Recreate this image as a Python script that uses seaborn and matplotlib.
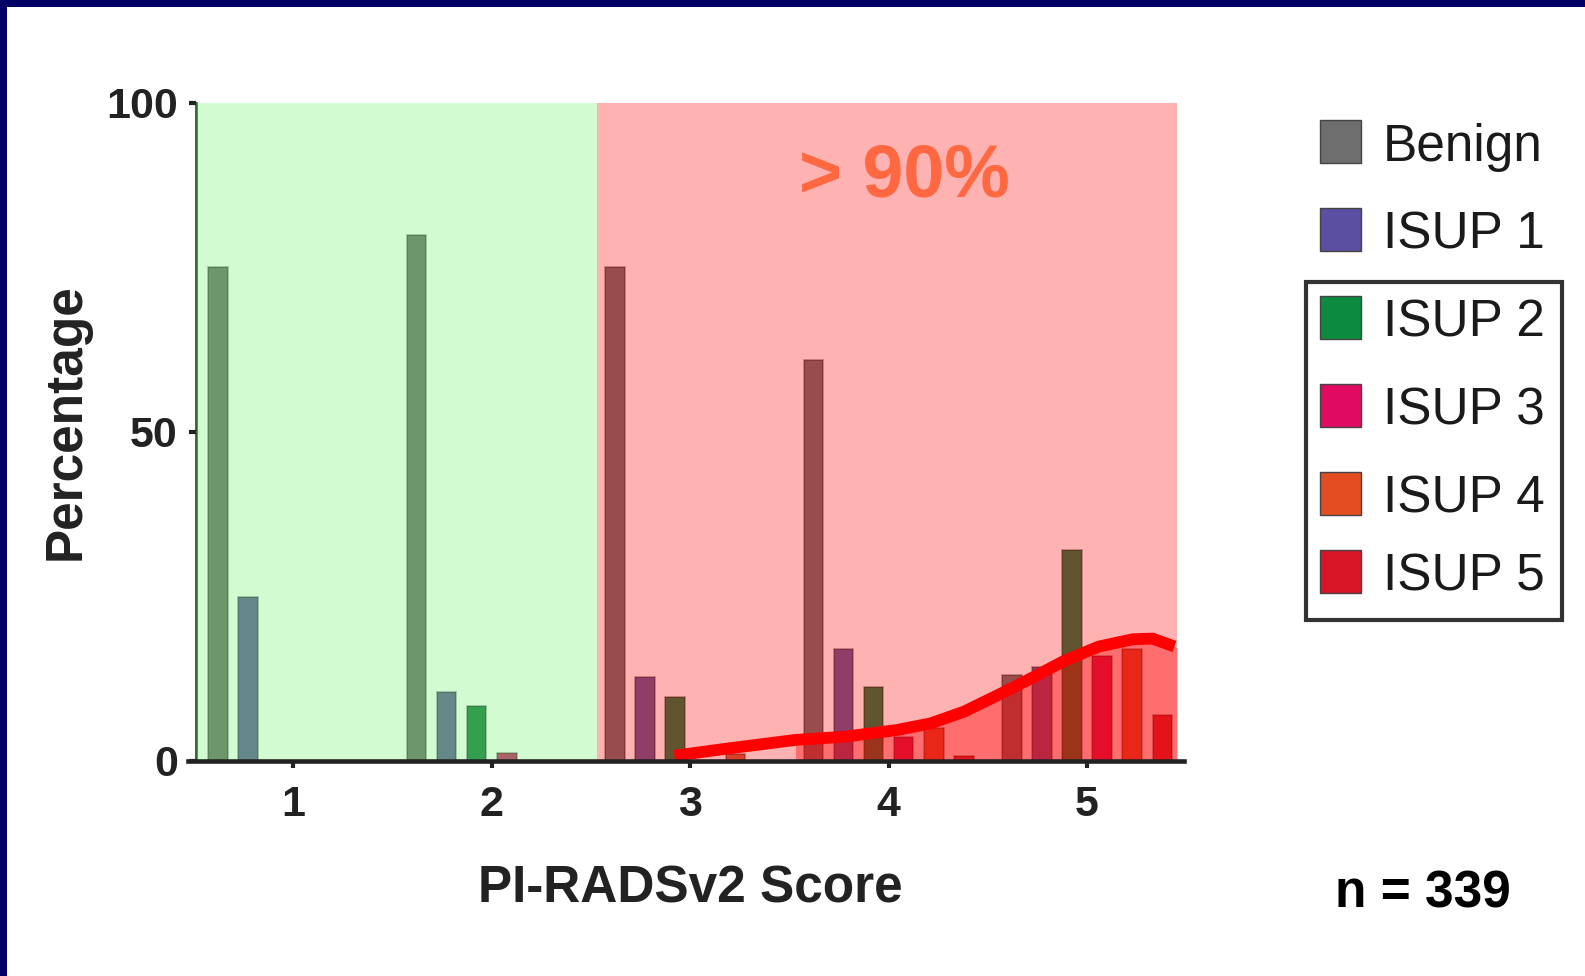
import numpy as np
import pandas as pd
import seaborn as sns
import matplotlib.pyplot as plt
from matplotlib.patches import Rectangle

sns.set_style('white')
plt.rcParams['font.family'] = ['Liberation Sans', 'DejaVu Sans']

# data
scores = [1, 2, 3, 4, 5]
grades = ['Benign', 'ISUP 1', 'ISUP 2', 'ISUP 3', 'ISUP 4', 'ISUP 5']
benign = [75, 80, 75, 61, 13]
isup1 = [25, 10.5, 12.7, 17, 14.3]
isup2 = [0, 8.4, 9.8, 11.3, 32]
isup3 = [0, 1.2, 0, 3.6, 16]
isup4 = [0, 0, 1, 5, 17]
isup5 = [0, 0, 0, 0.8, 7]
grade_colors = ['#6e6e6e', '#5a4fa0', '#0c8a3f', '#e00a60', '#e44d22', '#d81628']

# red trend curve, read point by point
curve_x = [2.92, 3.19, 3.53, 3.78, 4.04, 4.21, 4.38, 4.55, 4.72, 4.89, 5.06, 5.23, 5.33, 5.44]
curve_y = [0.8, 1.9, 3.2, 3.7, 4.7, 5.7, 7.5, 10.0, 12.6, 15.3, 17.4, 18.5, 18.6, 17.4]

rows = []
for g, vals in zip(grades, [benign, isup1, isup2, isup3, isup4, isup5]):
    for s, v in zip(scores, vals):
        rows.append({'score': s, 'grade': g, 'pct': v})
df = pd.DataFrame(rows)

W, H = 1585, 976
fig = plt.figure(figsize=(W / 100, H / 100), dpi=100)
fig.patch.set_facecolor('white')
ax = fig.add_axes([196 / W, 1 - 761 / H, (1177 - 196) / W, (761 - 103) / H])

sns.barplot(data=df, x='score', y='pct', hue='grade', hue_order=grades,
            palette=grade_colors, native_scale=True, width=0.91, gap=0.35,
            errorbar=None, edgecolor=(0, 0, 0, 0.35), linewidth=1.2,
            legend=False, ax=ax, zorder=2)

# coloured zones laid over the bars
ax.axvspan(0.5, 2.53, color='#6df56d', alpha=0.3, lw=0, zorder=3)
ax.axvspan(2.53, 5.453, color='#ff0000', alpha=0.3, lw=0, zorder=3)

cx = np.array(curve_x)
cy = np.array(curve_y)
m = cx >= 3.53
ax.fill_between(np.r_[cx[m], 5.453], 0, np.r_[cy[m], 17.2],
                color='#ff0000', alpha=0.38, lw=0, zorder=4)
ax.plot(cx, cy, color='#ff0000', lw=8.5, solid_capstyle='butt',
        solid_joinstyle='round', zorder=5, clip_on=False)

ax.set_xlim(0.51, 5.453)
ax.set_ylim(0, 100)
ax.set_xticks(scores)
ax.set_yticks([0, 50, 100])
ax.set_xlabel('')
ax.set_ylabel('')
for sp in ['top', 'right']:
    ax.spines[sp].set_visible(False)
ax.spines['left'].set_linewidth(1.8)
ax.spines['bottom'].set_linewidth(3.3)
ax.spines['left'].set_color('#1a2a1a')
ax.spines['bottom'].set_color('#222222')
ax.spines['bottom'].set_bounds(0.47, 5.49)
ax.spines['bottom'].set_zorder(6)
ax.tick_params(axis='both', direction='out', length=5, width=3, color='#222222',
               labelsize=31, labelcolor='#222222', bottom=True, left=True)
ax.tick_params(axis='x', pad=12)
ax.tick_params(axis='y', pad=8)
for t in ax.get_xticklabels() + ax.get_yticklabels():
    t.set_fontweight('bold')

fig.text(66 / W, 1 - 422 / H, 'Percentage', rotation=90, ha='center', va='center',
         fontsize=37, fontweight='bold', color='#222222')
fig.text(690 / W, 1 - 889 / H, 'PI-RADSv2 Score', ha='center', va='center',
         fontsize=37, fontweight='bold', color='#222222')
fig.text(1423 / W, 1 - 894 / H, 'n = 339', ha='center', va='center',
         fontsize=37, fontweight='bold', color='black')
fig.text(904 / W, 1 - 177 / H, '> 90%', ha='center', va='center',
         fontsize=53, fontweight='bold', color='#ff6840')

# legend drawn by hand (box only round ISUP 2-5)
leg_y = [142, 230, 318, 406, 494, 572]
for lab, col, yc in zip(grades, grade_colors, leg_y):
    fig.add_artist(Rectangle((1320 / W, 1 - (yc + 21) / H), 41 / W, 43 / H,
                             transform=fig.transFigure, facecolor=col,
                             edgecolor='#444444', lw=1))
    fig.text(1383 / W, 1 - (yc + 5) / H, lab, ha='left', va='center', fontsize=37,
             color='#1a1a1a')
fig.add_artist(Rectangle((1306 / W, 1 - 620 / H), (1562 - 1306) / W, (620 - 282) / H,
                         transform=fig.transFigure, facecolor='none',
                         edgecolor='#333333', lw=3))

# navy frame at top and left
fig.add_artist(Rectangle((0, 1 - 7 / H), 1, 7 / H, transform=fig.transFigure,
                         facecolor='#000066', lw=0))
fig.add_artist(Rectangle((0, 0), 7 / W, 1, transform=fig.transFigure,
                         facecolor='#000066', lw=0))

fig.savefig('out.png', dpi=100)
